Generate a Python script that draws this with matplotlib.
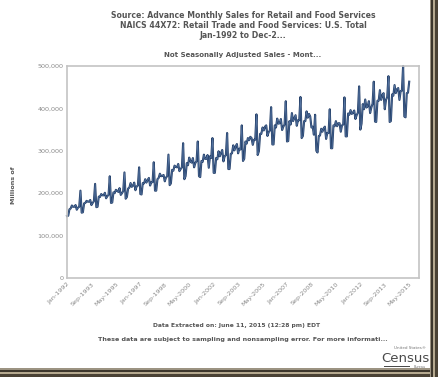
import numpy as np
import matplotlib
matplotlib.use("Agg")
import matplotlib.pyplot as plt
from matplotlib.patches import Rectangle

# Monthly sales, thousands of millions of dollars (Jan..Dec per year)
y1992 = [146, 147, 162, 164, 171, 168, 168, 172, 161, 166, 168, 206]
y1993 = [154, 155, 176, 177, 182, 180, 180, 184, 172, 177, 181, 222]
y1994 = [167, 168, 192, 191, 198, 195, 195, 201, 188, 193, 196, 240]
y1995 = [177, 178, 202, 200, 208, 206, 203, 212, 196, 200, 205, 249]
y1996 = [187, 191, 211, 213, 224, 215, 218, 225, 207, 216, 218, 261]
y1997 = [198, 197, 224, 223, 233, 225, 231, 236, 218, 226, 226, 273]
y1998 = [206, 206, 233, 236, 246, 240, 241, 243, 228, 237, 240, 291]
y1999 = [219, 223, 255, 253, 265, 262, 261, 269, 252, 257, 261, 318]
y2000 = [233, 240, 271, 266, 284, 275, 272, 283, 261, 271, 276, 322]
y2001 = [240, 238, 276, 274, 291, 281, 281, 290, 260, 287, 283, 330]
y2002 = [248, 248, 283, 280, 299, 287, 295, 302, 275, 287, 290, 342]
y2003 = [257, 257, 293, 294, 313, 301, 310, 316, 294, 305, 303, 360]
y2004 = [276, 281, 322, 317, 330, 325, 333, 330, 314, 326, 326, 386]
y2005 = [290, 299, 340, 340, 355, 348, 357, 360, 335, 344, 348, 403]
y2006 = [315, 315, 360, 355, 376, 364, 365, 375, 349, 357, 362, 417]
y2007 = [322, 323, 370, 362, 389, 370, 377, 384, 359, 372, 372, 427]
y2008 = [330, 335, 370, 370, 393, 378, 387, 381, 355, 357, 338, 385]
y2009 = [300, 296, 335, 336, 352, 345, 353, 357, 328, 342, 342, 398]
y2010 = [306, 306, 360, 358, 370, 358, 365, 365, 345, 360, 362, 426]
y2011 = [334, 334, 388, 385, 396, 387, 390, 395, 375, 384, 390, 452]
y2012 = [350, 364, 410, 398, 421, 402, 405, 417, 389, 402, 411, 463]
y2013 = [369, 368, 418, 418, 443, 420, 431, 436, 398, 420, 427, 476]
y2014 = [368, 370, 433, 430, 455, 436, 445, 448, 420, 441, 442, 500]
y2015 = [381, 379, 436, 437, 463]

years = [y1992, y1993, y1994, y1995, y1996, y1997, y1998, y1999, y2000, y2001,
         y2002, y2003, y2004, y2005, y2006, y2007, y2008, y2009, y2010, y2011,
         y2012, y2013, y2014, y2015]
sales = np.array([v for yr in years for v in yr], dtype=float) * 1000

tick_labels = ["Jan-1992", "Sep-1993", "May-1995", "Jan-1997", "Sep-1998",
               "May-2000", "Jan-2002", "Sep-2003", "May-2005", "Jan-2007",
               "Sep-2008", "May-2010", "Jan-2012", "Sep-2013", "May-2015"]
yticks = [0, 100000, 200000, 300000, 400000, 500000]

W, H = 439, 377
fig = plt.figure(figsize=(W / 100, H / 100), dpi=100)
fig.patch.set_facecolor("white")

def fx(px): return px / W
def fy(py): return 1 - py / H

ax = fig.add_axes([fx(67), fy(278), fx(419) - fx(67), fy(66) - fy(278)])
x = np.arange(len(sales))
ax.plot(x, sales, color="#27426b", lw=1.5, solid_joinstyle="round", clip_on=False)
ax.plot(x, sales, color="#5a7aa8", lw=0.4, solid_joinstyle="round", clip_on=False)
ax.set_xlim(0, 288)
ax.set_ylim(0, 500000)
ax.set_yticks(yticks)
ax.set_yticklabels([f"{v:,}" for v in yticks], fontsize=4.6, color="#8a8a8a")
ax.set_xticks(np.arange(len(tick_labels)) * 20)
ax.set_xticklabels(tick_labels, rotation=45, ha="right", rotation_mode="anchor",
                   fontsize=4.6, color="#8a8a8a")
ax.tick_params(axis="both", length=0, pad=2.5)
for s in ax.spines.values():
    s.set_color("#c4c4c4")
    s.set_linewidth(1.2)

tc = "#555555"
fig.text(fx(243), fy(16), "Source: Advance Monthly Sales for Retail and Food Services",
         ha="center", va="center", fontsize=5.6, fontweight="bold", color=tc)
fig.text(fx(243), fy(25.5), "NAICS 44X72: Retail Trade and Food Services: U.S. Total",
         ha="center", va="center", fontsize=5.6, fontweight="bold", color=tc)
fig.text(fx(243), fy(35), "Jan-1992 to Dec-2...",
         ha="center", va="center", fontsize=5.6, fontweight="bold", color=tc)
fig.text(fx(243), fy(55), "Not Seasonally Adjusted Sales - Mont...",
         ha="center", va="center", fontsize=5.0, fontweight="bold", color=tc)
fig.text(fx(14), fy(185), "Millions of", rotation=90,
         ha="center", va="center", fontsize=4.6, fontweight="bold", color=tc)
fig.text(fx(237), fy(325), "Data Extracted on: June 11, 2015 (12:28 pm) EDT",
         ha="center", va="center", fontsize=4.3, fontweight="bold", color=tc)
fig.text(fx(243), fy(340), "These data are subject to sampling and nonsampling error. For more informati...",
         ha="center", va="center", fontsize=4.55, fontweight="bold", color=tc)

# Census logo
fig.text(fx(426), fy(348), "United States\u00ae", ha="right", va="center",
         fontsize=3.0, color="#777777")
fig.text(fx(405), fy(359), "Census", ha="center", va="center",
         fontsize=9.5, color="#4a4a4a", family="Liberation Sans Narrow")
fig.add_artist(Rectangle((fx(384), fy(367)), fx(410) - fx(384), 1.2 / H,
                         transform=fig.transFigure, color="#4a4a4a", lw=0))
fig.text(fx(426), fy(366.5), "Bureau", ha="right", va="center",
         fontsize=2.4, color="#777777")

# photo frame (shadow border) on right and bottom
bands = [(430, 1.5, "#9c9382"), (431.5, 2, "#3d372c"), (433.5, 2, "#b5a98f"),
         (435.5, 3.5, "#4a4234")]
for x0, w, c in bands:
    fig.add_artist(Rectangle((fx(x0), 0), w / W, 1, transform=fig.transFigure,
                             color=c, lw=0))
hbands = [(368, 1.5, "#9c9382"), (369.5, 2, "#3d372c"), (371.5, 2, "#b5a98f"),
          (373.5, 3.5, "#4a4234")]
for y0, h, c in hbands:
    fig.add_artist(Rectangle((0, fy(y0 + h)), fx(430), h / H,
                             transform=fig.transFigure, color=c, lw=0))

fig.savefig("out.png", dpi=100, facecolor=fig.get_facecolor())
